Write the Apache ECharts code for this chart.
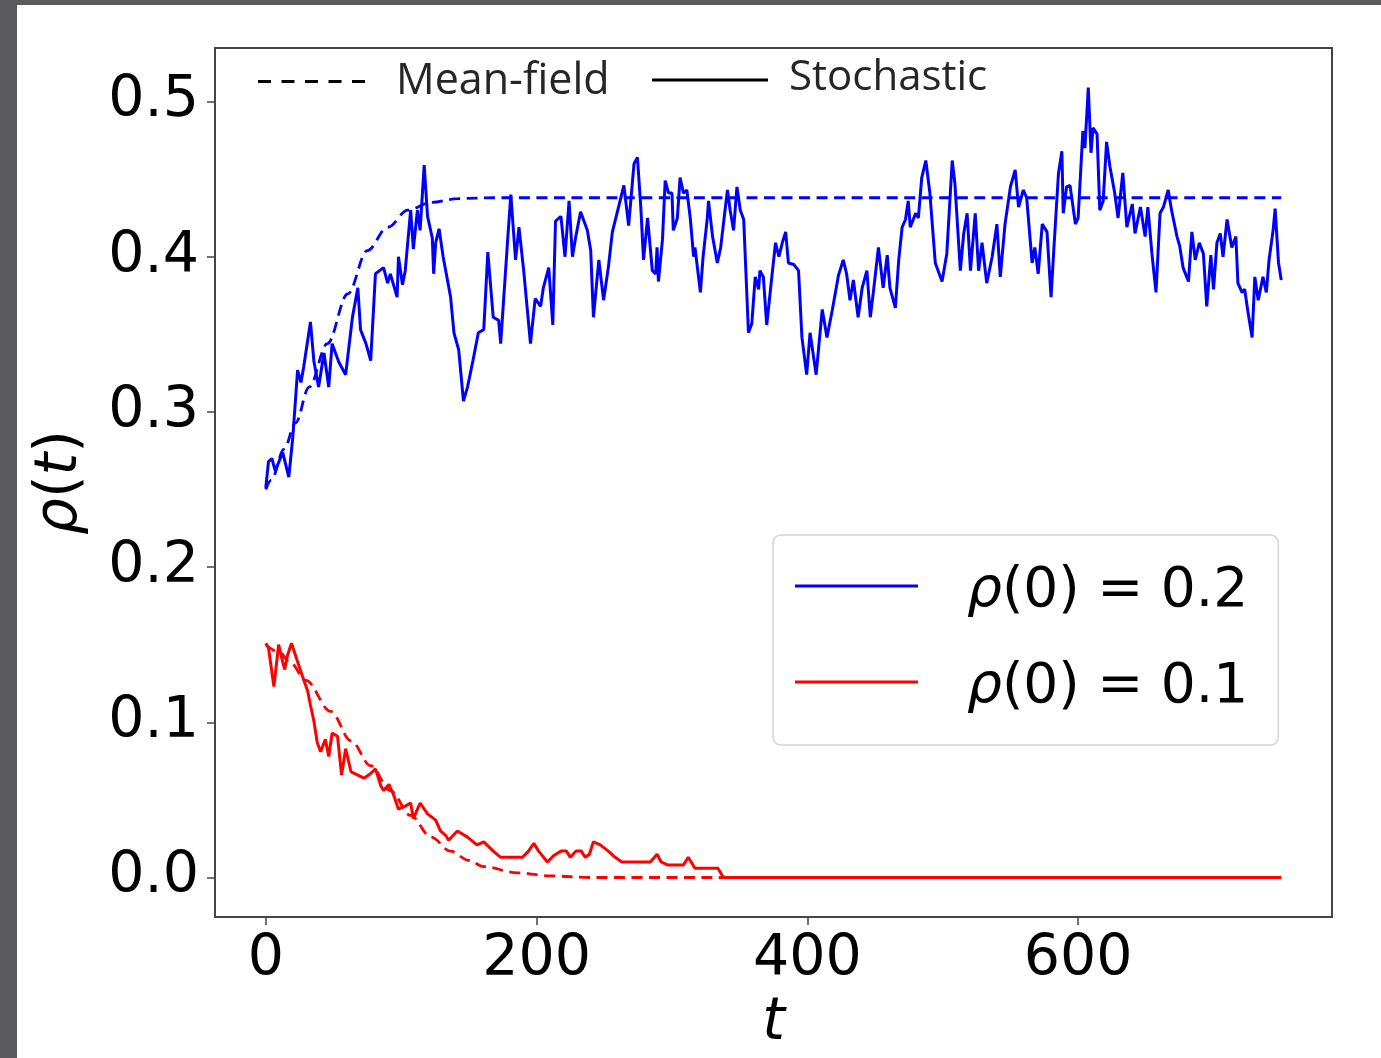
<!DOCTYPE html>
<html><head><meta charset="utf-8">
<script src="https://cdn.jsdelivr.net/npm/echarts@6/dist/echarts.min.js"></script>
<style>
html,body{margin:0;padding:0;background:#5b5b5d;width:1381px;height:1058px;overflow:hidden}
#panel{position:absolute;left:17px;top:5px;width:1364px;height:1053px;background:#fff}
#chart{width:1364px;height:1053px}
</style></head><body><div id="panel"><div id="chart"></div></div>
<script>
// ---- data ----
const xTicks = [0, 200, 400, 600];
const yTicks = [0, 0.1, 0.2, 0.3, 0.4, 0.5];
const seriesNames = ['ρ(0) = 0.2', 'ρ(0) = 0.1'];
const topLegendNames = ['Mean-field', 'Stochastic'];

const blueStochT = [0,2,4.5,7,12.5,17,20,23.5,26,28,33,35.5,39,43,46.5,49,54,59,64,68,70,74,77.5,81,87,90,92,97,98,101,103,107,109,112,114,117,119.5,123,124,125.5,128,131,136.5,139,142.5,146,149,153,157,161,164,168,172,173.5,178.5,181,184.5,187,190.5,195.5,199,203,205,209,212,214,218,221,224,226.5,229,232.5,237.5,240,242,246,249.5,253,256,260,264.5,268,272,274.5,277,279,282,285.5,288,289,290,293,295,297.5,300,301,304,306,308.5,311,313.5,316,317,321,323,326,327,330,333.5,336,338,341,343,345.5,348,350.5,353,356.5,359,361.5,364,365,367.5,370,374,376.5,379,381.5,384,386,390,393.5,396,399.5,402,406.5,411,414.5,418.5,423,426.5,429,431.5,434,437.5,440.5,444,446.5,449,452.5,456,459,461,465,467.5,470,472.5,474.5,476,480,482,484.5,487.5,490.5,494.5,499.5,503,507,509,513,515.5,518,520.5,524,526.5,529,532.5,536.5,540,542.5,546,550,553.5,556,559.5,562,566,568,570.5,573.5,577,580,582,585.5,588,589,591.5,594,598,600,603.5,605,607.5,609.5,611,614,616,618.5,621,623.5,627,629.5,633,636,640,642,646,649.5,651.5,654.5,657.5,660.5,663,666.5,669,673,675,677.5,681.5,684,686.5,689.5,692.5,695,698,700,702.5,705,707,710,713.5,716.5,718,721,723,725.5,728.5,730.5,733,736.5,739,741,744,745.5,748,750];
const blueStochV = [0.251,0.268,0.270,0.262,0.274,0.258,0.284,0.327,0.319,0.329,0.358,0.333,0.316,0.338,0.316,0.344,0.332,0.324,0.361,0.380,0.353,0.344,0.333,0.389,0.393,0.383,0.389,0.374,0.400,0.382,0.391,0.430,0.405,0.430,0.417,0.459,0.426,0.412,0.389,0.409,0.418,0.400,0.374,0.351,0.340,0.307,0.316,0.333,0.351,0.353,0.403,0.361,0.359,0.344,0.409,0.440,0.398,0.419,0.391,0.344,0.373,0.368,0.380,0.393,0.356,0.423,0.426,0.400,0.436,0.400,0.413,0.429,0.417,0.404,0.361,0.398,0.372,0.393,0.416,0.430,0.446,0.420,0.460,0.464,0.432,0.398,0.425,0.391,0.389,0.406,0.384,0.411,0.449,0.441,0.441,0.417,0.425,0.451,0.441,0.443,0.425,0.400,0.406,0.377,0.400,0.424,0.436,0.413,0.396,0.406,0.421,0.443,0.430,0.417,0.445,0.430,0.424,0.351,0.357,0.387,0.379,0.391,0.387,0.356,0.389,0.409,0.400,0.409,0.416,0.396,0.395,0.391,0.348,0.324,0.351,0.324,0.366,0.348,0.366,0.388,0.398,0.389,0.372,0.385,0.361,0.380,0.391,0.361,0.379,0.406,0.380,0.401,0.380,0.367,0.398,0.419,0.424,0.436,0.419,0.428,0.425,0.451,0.462,0.441,0.396,0.384,0.402,0.462,0.447,0.391,0.415,0.428,0.391,0.428,0.391,0.409,0.383,0.400,0.421,0.387,0.421,0.445,0.456,0.432,0.443,0.438,0.396,0.406,0.389,0.421,0.416,0.374,0.404,0.454,0.468,0.428,0.445,0.446,0.421,0.425,0.481,0.470,0.509,0.467,0.483,0.479,0.430,0.436,0.474,0.458,0.441,0.425,0.454,0.419,0.434,0.415,0.432,0.413,0.432,0.402,0.377,0.428,0.432,0.443,0.430,0.413,0.407,0.393,0.384,0.416,0.398,0.409,0.402,0.368,0.401,0.379,0.409,0.415,0.400,0.424,0.406,0.413,0.383,0.377,0.379,0.364,0.348,0.387,0.372,0.387,0.377,0.398,0.417,0.431,0.396,0.385];

const blueMeanT = [0,4,13.5,22,32,45.5,60.5,75,90,105,122,142,170,750];
const blueMeanV = [0.250,0.256,0.276,0.293,0.316,0.344,0.376,0.404,0.419,0.430,0.435,0.4375,0.438,0.438];

const redStochT = [0,2,6,9.5,12.5,14,16,19,23.5,27,31,33,35.5,38,40.5,44,46.5,49,53,56,59,63,68,72.5,77.5,81,85,87,91,94.5,98,103,107,109,114,119.5,125.5,129,133,135,141.5,149,156,161,168,173.5,189.5,194,198,201.5,208,212.5,218,222,225,229,233,236,239,242,247,253,258,263,284,289,292,297,308.5,312,317,334,338,750];
const redStochV = [0.151,0.148,0.123,0.150,0.139,0.134,0.143,0.151,0.139,0.130,0.120,0.111,0.101,0.087,0.081,0.089,0.078,0.093,0.091,0.066,0.083,0.068,0.066,0.064,0.067,0.070,0.059,0.056,0.060,0.053,0.044,0.046,0.048,0.038,0.048,0.041,0.037,0.030,0.027,0.024,0.030,0.026,0.021,0.023,0.017,0.013,0.013,0.017,0.022,0.017,0.010,0.014,0.017,0.017,0.013,0.017,0.017,0.013,0.015,0.023,0.021,0.017,0.013,0.010,0.010,0.015,0.010,0.008,0.008,0.013,0.006,0.006,0,0];

const redMeanT = [0,10,18.5,29.5,48,63,77.5,92,107,122,136.5,150,161,186,210,240,750];
const redMeanV = [0.150,0.145,0.138,0.127,0.107,0.088,0.072,0.056,0.040,0.026,0.017,0.011,0.007,0.003,0.001,0,0];

const zip = (t, v) => t.map((x, i) => [x, v[i]]);

const BLUE = '#0000ff', RED = '#ff0000';
const chart = echarts.init(document.getElementById('chart'), null, {renderer: 'canvas'});
const tickFont = 'DejaVu Sans';

const option = {
  animation: false,
  backgroundColor: '#ffffff',
  grid: {left: 198, top: 43, width: 1117, height: 875, show: true, borderColor: '#444', borderWidth: 2, backgroundColor: 'transparent'},
  xAxis: {
    type: 'value', min: -37.5, max: 787.5,
    splitLine: {show: false},
    axisLine: {show: false, onZero: false},
    axisTick: {show: true, customValues: xTicks, length: 8, lineStyle: {color: '#444', width: 1.5}},
    axisLabel: {customValues: xTicks, fontFamily: tickFont, fontSize: 57, color: '#000', margin: 15},
    name: '{i|t}', nameLocation: 'middle', nameGap: 78,
    nameTextStyle: {rich: {i: {fontFamily: tickFont, fontStyle: 'italic', fontSize: 58, color: '#000'}}}
  },
  yAxis: {
    type: 'value', min: -0.02545, max: 0.5345,
    splitLine: {show: false},
    axisLine: {show: false, onZero: false},
    axisTick: {show: true, customValues: yTicks, length: 8, lineStyle: {color: '#444', width: 1.5}},
    axisLabel: {customValues: yTicks, fontFamily: tickFont, fontSize: 57, color: '#000', margin: 16,
      formatter: v => v.toFixed(1)},
    name: '{i|ρ}{n|(}{i|t}{n|)}', nameLocation: 'middle', nameGap: 125, nameRotate: 90,
    nameTextStyle: {rich: {
      i: {fontFamily: tickFont, fontStyle: 'italic', fontSize: 58, color: '#000'},
      n: {fontFamily: tickFont, fontSize: 58, color: '#000'}
    }}
  },
  legend: {
    show: true, orient: 'vertical', left: 756, top: 530,
    data: seriesNames, selectedMode: false,
    icon: 'rect', itemWidth: 123, itemHeight: 3, itemGap: 24,
    padding: [15, 30, 27, 22],
    borderColor: '#d4d4d4', borderWidth: 1.5, borderRadius: 8,
    backgroundColor: 'rgba(255,255,255,0.85)',
    formatter: name => '{i|ρ}{n|' + name.slice(1) + '}',
    textStyle: {
      fontFamily: tickFont, fontSize: 55, color: '#000', lineHeight: 60, padding: [12, 0, 0, 44],
      rich: {
        i: {fontFamily: tickFont, fontStyle: 'italic', fontSize: 55, color: '#000', lineHeight: 60},
        n: {fontFamily: tickFont, fontSize: 55, color: '#000', lineHeight: 60}
      }
    }
  },
  graphic: [
    {type: 'line', shape: {x1: 241, y1: 76.5, x2: 348, y2: 76.5}, style: {stroke: '#000', lineWidth: 3, lineDash: [13, 10.5]}},
    {type: 'text', left: 379, top: 55, style: {text: topLegendNames[0], fontFamily: 'Open Sans', fontSize: 43, fill: '#262626'}},
    {type: 'line', shape: {x1: 635, y1: 75, x2: 751, y2: 75}, style: {stroke: '#000', lineWidth: 3}},
    {type: 'text', left: 772, top: 52, style: {text: topLegendNames[1], fontFamily: 'Open Sans', fontSize: 42, fill: '#262626'}}
  ],
  series: [
    {name: seriesNames[0], type: 'line', data: zip(blueStochT, blueStochV), showSymbol: false, symbol: 'none',
      lineStyle: {color: BLUE, width: 3}, itemStyle: {color: BLUE}, z: 3},
    {name: 'mf02', type: 'line', data: zip(blueMeanT, blueMeanV), showSymbol: false, symbol: 'none', smooth: 0.35, smoothMonotone: 'x',
      lineStyle: {color: BLUE, width: 2.8, type: [11, 6.5]}, itemStyle: {color: BLUE}, z: 4},
    {name: seriesNames[1], type: 'line', data: zip(redStochT, redStochV), showSymbol: false, symbol: 'none',
      lineStyle: {color: RED, width: 3}, itemStyle: {color: RED}, z: 3},
    {name: 'mf01', type: 'line', data: zip(redMeanT, redMeanV), showSymbol: false, symbol: 'none', smooth: 0.35, smoothMonotone: 'x',
      lineStyle: {color: RED, width: 2.8, type: [11, 6.5]}, itemStyle: {color: RED}, z: 4}
  ]
};
chart.setOption(option);
</script></body></html>
